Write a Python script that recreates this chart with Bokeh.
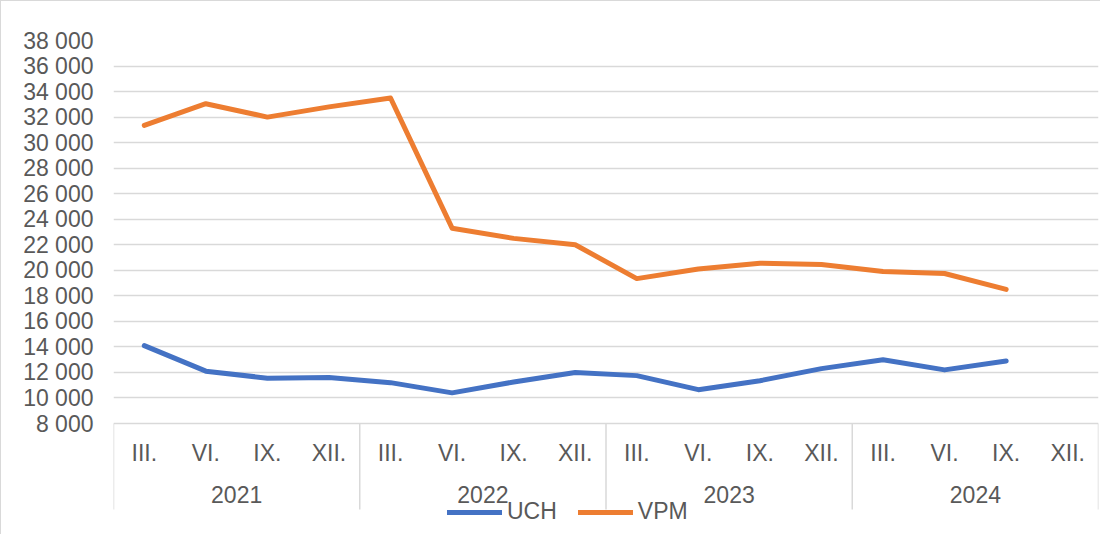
from bokeh.plotting import figure
from bokeh.models import FactorRange, Range1d, FixedTicker, Legend, LegendItem
from bokeh.core.properties import value
from bokeh.embed import file_html
from bokeh.resources import INLINE

# ---- data ----
years = ["2021", "2022", "2023", "2024"]
quarters = ["III.", "VI.", "IX.", "XII."]
uch = [14100, 12100, 11550, 11600, 11200, 10400, 11250, 12000,
       11750, 10650, 11350, 12300, 13000, 12200, 12900]
vpm = [31350, 33050, 32000, 32800, 33500, 23300, 22500, 22000,
       19350, 20100, 20550, 20450, 19900, 19750, 18500]
y_ticks = [8000, 10000, 12000, 14000, 16000, 18000, 20000, 22000,
           24000, 26000, 28000, 30000, 32000, 34000, 36000, 38000]
y_tick_labels = ["8 000", "10 000", "12 000", "14 000", "16 000", "18 000",
                 "20 000", "22 000", "24 000", "26 000", "28 000", "30 000",
                 "32 000", "34 000", "36 000", "38 000"]
series_names = ["UCH", "VPM"]

FONT = "Liberation Sans"
TXT = "#595959"
GRID = "#d9d9d9"

Y_MIN, Y_MAX = 8000, 38000
DATA_H = 383      # pixel height of the 8 000 .. 38 000 band
BELOW = 110       # pixel room under the 8 000 line for the category labels + legend
TOP = 39

factors = [(y, q) for y in years for q in quarters]

p = figure(
    x_range=FactorRange(factors=factors, range_padding=0, factor_padding=0,
                        group_padding=0, subgroup_padding=0),
    y_range=Range1d(Y_MIN - BELOW * (Y_MAX - Y_MIN) / DATA_H, Y_MAX),
    width=1100, height=534,
    output_backend="svg", toolbar_location=None,
    min_border_left=112, min_border_right=3,
    min_border_top=TOP, min_border_bottom=534 - TOP - DATA_H - BELOW,
)
p.styles = {"border-top": "1.5px solid #d9d9d9", "border-left": "1.5px solid #d9d9d9"}
p.outline_line_color = None
p.background_fill_color = "white"
p.border_fill_color = "white"

# pixel-unit helper range (0 = the 8 000 line) for the category axis area
p.extra_y_ranges = {"px": Range1d(-BELOW, DATA_H)}

# grid
p.xgrid.visible = False
p.ygrid.grid_line_color = GRID
p.ygrid.grid_line_width = 1.5
p.ygrid.ticker = FixedTicker(ticks=y_ticks)

# group separators of the two-level category axis
bounds = [(y, quarters[0], -0.5) for y in years] + [(years[-1], quarters[-1], 0.5)]
p.segment(x0=bounds, x1=bounds, y0=[0] * len(bounds), y1=[-86] * len(bounds),
          y_range_name="px", line_color=GRID, line_width=1.5)

# category labels (quarters) and group labels (years)
p.text(x=factors, y=[-29] * len(factors), text=[q for (_, q) in factors],
       y_range_name="px", text_align="center", text_baseline="middle",
       text_font=value(FONT), text_font_size="23px", text_color=TXT)
p.text(x=years, y=[-71] * len(years), text=years,
       y_range_name="px", text_align="center", text_baseline="middle",
       text_font=value(FONT), text_font_size="23px", text_color=TXT)

r_uch = p.line(factors[:len(uch)], uch, line_color="#4472C4", line_width=5,
               line_cap="round", line_join="round")
r_vpm = p.line(factors[:len(vpm)], vpm, line_color="#ED7D31", line_width=5,
               line_cap="round", line_join="round")

# y axis
p.yaxis.ticker = FixedTicker(ticks=y_ticks)
p.yaxis.major_label_overrides = dict(zip(y_ticks, y_tick_labels))
p.yaxis.axis_line_color = None
p.yaxis.major_tick_line_color = None
p.yaxis.minor_tick_line_color = None
p.yaxis.major_tick_out = 0
p.yaxis.major_tick_in = 0
p.yaxis.major_label_standoff = 20
p.yaxis.major_label_text_font = FONT
p.yaxis.major_label_text_font_size = "23px"
p.yaxis.major_label_text_color = TXT

# x axis: drawn above as grid line + labels
p.xaxis.visible = False

legend = Legend(
    items=[LegendItem(label=series_names[0], renderers=[r_uch]),
           LegendItem(label=series_names[1], renderers=[r_vpm])],
    orientation="horizontal", location=(334, BELOW - 102),
    glyph_width=55, glyph_height=26, label_standoff=5, spacing=21,
    padding=0, margin=0, border_line_color=None, background_fill_alpha=0,
    label_text_font=FONT, label_text_font_size="23px", label_text_color=TXT,
)
p.add_layout(legend)

open("out.html", "w").write(file_html(p, INLINE))
